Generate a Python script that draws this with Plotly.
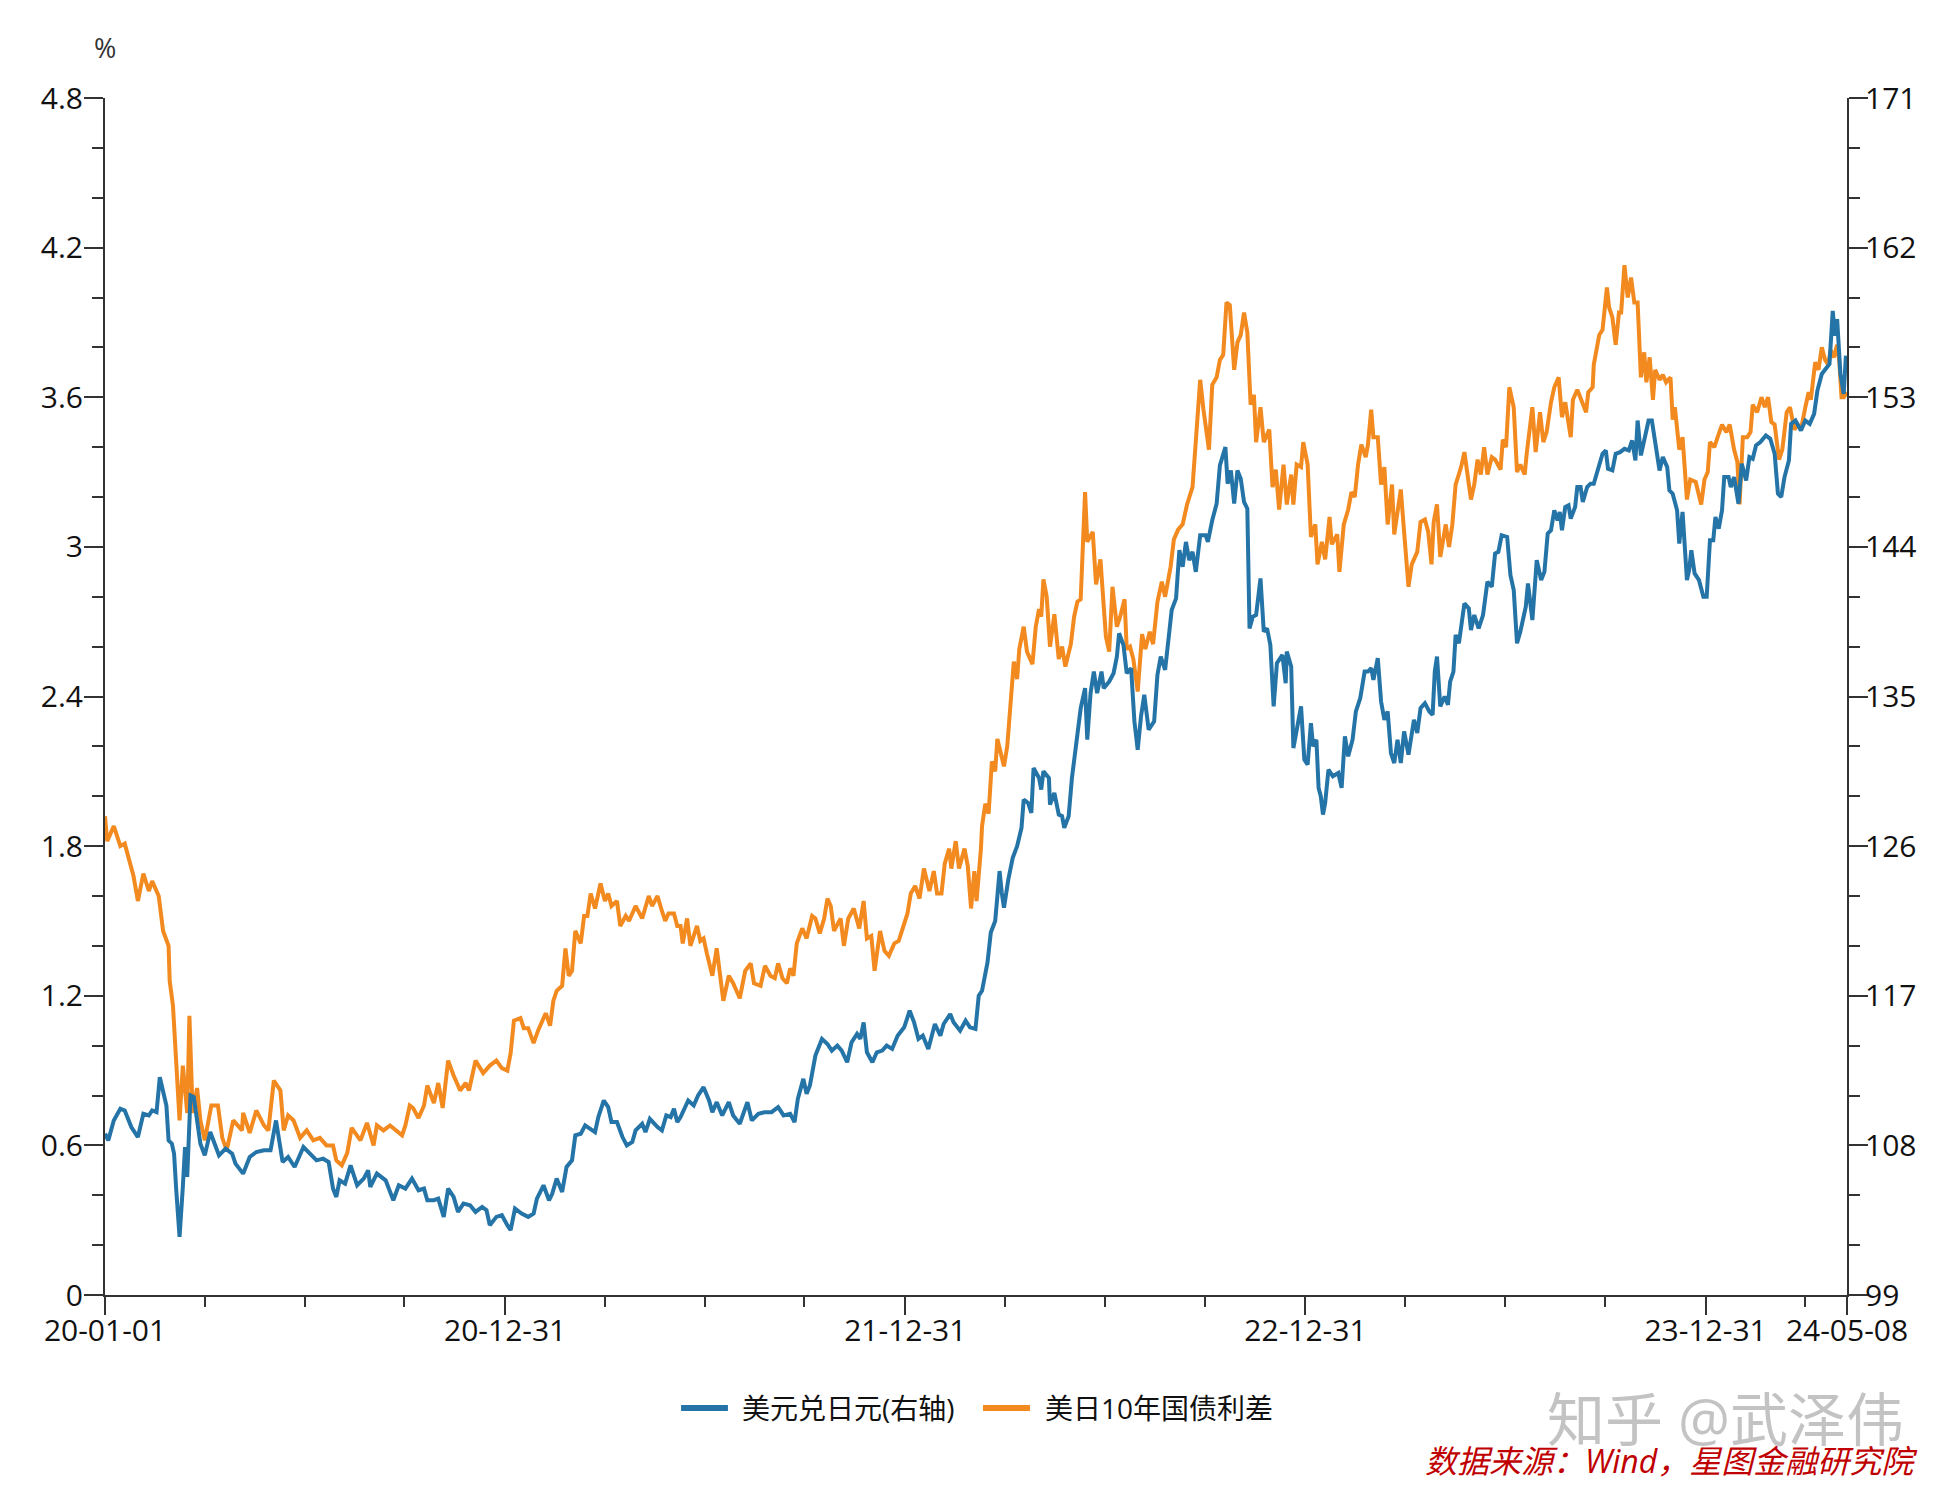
import pandas as pd
import plotly.graph_objects as go

# 美日10年国债利差 (%), days since 2020-01-01
spread_day = [
    0, 2, 8, 14, 18, 26, 30, 35, 40, 43, 49, 53, 58, 59, 62, 65, 68, 71, 75, 77,
    80, 84, 87, 91, 97, 103, 107, 111, 117, 125, 126, 132, 138, 145, 149, 154, 160, 163, 167, 172,
    178, 184, 190, 196, 202, 208, 211, 216, 221, 225, 233, 239, 245, 248, 254,
    260, 266, 271, 274, 278, 281, 286, 291, 294, 300, 304, 308, 313, 318, 324, 329, 332, 338, 342, 345,
    351, 357, 362, 367, 370, 373, 379, 382, 386, 391, 395, 402, 406, 409, 412, 417, 420, 423, 426, 429,
    434, 437, 440, 443, 447, 452, 456, 459, 462, 467, 470, 475, 478, 484, 490, 496, 499, 504, 508, 511,
    514, 519, 522,
    525, 527, 531, 534, 540, 543, 546, 549, 554, 558, 564, 569, 573, 579, 584, 589, 592, 598, 602, 607,
    611, 614, 618, 622, 625, 628, 631, 636, 640, 645, 648, 652, 656, 659, 662, 665, 671, 674, 678, 683,
    688, 692, 695, 699, 702, 707, 711, 715, 720, 724, 728, 732, 735, 739, 743, 747, 752, 756, 759, 763,
    766, 770, 772, 776, 779, 784, 787, 790, 793, 795, 799,
    800, 803, 806, 809, 812, 814, 817, 820, 823, 826, 829, 832, 834, 838, 841, 846, 849, 852, 854, 856,
    859, 862, 866, 870, 873, 876, 881, 884, 887, 890, 894, 896, 901, 904, 908, 913, 916, 919, 923, 926,
    930, 932, 935, 938, 942, 946, 949, 953, 956, 960, 964, 967, 972, 975, 979, 983, 987, 992, 995, 999,
    1002, 1007, 1010, 1014, 1017, 1020, 1023, 1026, 1030, 1033, 1036, 1039, 1042, 1045, 1048, 1050,
    1054, 1057, 1062, 1065, 1068, 1071, 1075, 1078, 1082, 1084, 1087, 1091, 1093, 1097, 1100, 1104, 1106, 1110, 1113, 1117,
    1119, 1124, 1126, 1130, 1134, 1137, 1140, 1143, 1146, 1150, 1152, 1155, 1157, 1161, 1164, 1167, 1170, 1174, 1176, 1182,
    1185, 1189, 1192, 1197, 1200, 1204, 1207, 1210, 1212, 1215, 1218, 1223, 1226, 1229, 1232, 1237, 1240, 1243, 1246, 1249,
    1252, 1255, 1258, 1261, 1265, 1268, 1273, 1275, 1278, 1281, 1285, 1288, 1291, 1295, 1297, 1302, 1305, 1309, 1312, 1315,
    1319, 1322, 1326, 1329, 1332, 1337, 1339, 1343, 1347, 1351, 1353, 1357, 1358, 1363, 1366, 1370, 1372, 1375, 1378, 1381,
    1383, 1386, 1389, 1392, 1395, 1398, 1401, 1404, 1406, 1409, 1412, 1414, 1418, 1421, 1424, 1428, 1430, 1432, 1436, 1439,
    1443, 1446, 1451, 1456, 1459, 1462, 1464, 1468, 1471, 1475, 1479, 1482, 1486, 1489, 1491, 1494, 1498, 1501, 1503, 1507,
    1511, 1514, 1517, 1520, 1523, 1527, 1530, 1534, 1537, 1541, 1544, 1547, 1551, 1554, 1556, 1560, 1563, 1566, 1569, 1572,
    1574, 1577, 1580, 1582, 1584, 1586, 1589,
]
spread_val = [
    1.92, 1.82, 1.88, 1.80, 1.81, 1.68, 1.58, 1.69, 1.62, 1.66, 1.60, 1.46, 1.40, 1.26, 1.16, 0.93, 0.70, 0.92, 0.73, 1.12,
    0.73, 0.83, 0.70, 0.62, 0.76, 0.76, 0.63, 0.58, 0.70, 0.66, 0.73, 0.65, 0.74, 0.68, 0.66, 0.86, 0.82, 0.66, 0.72, 0.70,
    0.63, 0.66, 0.62, 0.63, 0.60, 0.60, 0.54, 0.52, 0.57, 0.67, 0.62, 0.69, 0.60, 0.68, 0.66,
    0.68, 0.66, 0.64, 0.68, 0.76, 0.75, 0.71, 0.76, 0.84, 0.77, 0.85, 0.75, 0.94, 0.88, 0.82, 0.85, 0.82, 0.94, 0.91, 0.89,
    0.92, 0.94, 0.91, 0.90, 0.97, 1.10, 1.11, 1.07, 1.07, 1.01, 1.06, 1.13, 1.08, 1.18, 1.22, 1.24, 1.39, 1.28, 1.30, 1.46,
    1.41, 1.52, 1.52, 1.61, 1.55, 1.65, 1.58, 1.61, 1.56, 1.58, 1.48, 1.52, 1.50, 1.56, 1.51, 1.60, 1.56, 1.60, 1.54, 1.50,
    1.53, 1.53, 1.48,
    1.48, 1.41, 1.51, 1.40, 1.48, 1.42, 1.43, 1.37, 1.28, 1.39, 1.18, 1.28, 1.25, 1.19, 1.30, 1.33, 1.25, 1.24, 1.32, 1.28,
    1.27, 1.33, 1.27, 1.25, 1.31, 1.28, 1.41, 1.47, 1.43, 1.52, 1.51, 1.45, 1.51, 1.59, 1.56, 1.46, 1.51, 1.40, 1.51, 1.55,
    1.47, 1.58, 1.43, 1.44, 1.30, 1.46, 1.38, 1.36, 1.41, 1.42, 1.48, 1.53, 1.61, 1.64, 1.59, 1.71, 1.62, 1.70, 1.61, 1.61,
    1.73, 1.79, 1.71, 1.82, 1.71, 1.79, 1.72, 1.55, 1.70, 1.58, 1.79,
    1.88, 1.97, 1.93, 2.14, 2.10, 2.23, 2.18, 2.12, 2.20, 2.38, 2.54, 2.47, 2.59, 2.68, 2.58, 2.53, 2.68, 2.75, 2.72, 2.87,
    2.80, 2.60, 2.73, 2.55, 2.60, 2.52, 2.61, 2.72, 2.78, 2.79, 3.22, 3.02, 3.06, 2.85, 2.95, 2.64, 2.58, 2.84, 2.68, 2.72,
    2.79, 2.59, 2.60, 2.55, 2.42, 2.65, 2.59, 2.66, 2.61, 2.78, 2.86, 2.80, 2.92, 3.03, 3.07, 3.09, 3.17, 3.24, 3.42, 3.67,
    3.55, 3.39, 3.65, 3.68, 3.75, 3.77, 3.98, 3.97, 3.71, 3.82, 3.85, 3.94, 3.86, 3.57, 3.61, 3.42,
    3.56, 3.42, 3.47, 3.24, 3.31, 3.15, 3.33, 3.17, 3.29, 3.17, 3.33, 3.32, 3.42, 3.33, 3.04, 3.09, 2.93, 3.02, 2.95, 3.12,
    3.01, 3.05, 2.90, 3.09, 3.15, 3.22, 3.20, 3.33, 3.41, 3.36, 3.41, 3.55, 3.44, 3.44, 3.25, 3.32, 3.09, 3.25, 3.05, 3.23,
    3.06, 2.84, 2.93, 2.98, 3.10, 3.11, 3.06, 2.93, 3.10, 3.17, 2.96, 3.09, 3.00, 3.09, 3.25, 3.32, 3.38, 3.28, 3.19, 3.25,
    3.35, 3.29, 3.40, 3.29, 3.36, 3.35, 3.31, 3.43, 3.40, 3.64, 3.56, 3.30, 3.33, 3.29, 3.38, 3.56, 3.38, 3.54, 3.42, 3.46,
    3.58, 3.64, 3.68, 3.52, 3.58, 3.44, 3.59, 3.63, 3.58, 3.54, 3.62, 3.64, 3.73, 3.85, 3.87, 4.04, 3.96, 3.92, 3.81, 3.94,
    3.94, 4.13, 4.00, 4.08, 3.98, 3.98, 3.68, 3.78, 3.66, 3.76, 3.59, 3.71, 3.67, 3.69, 3.66, 3.68, 3.51, 3.56, 3.39, 3.44,
    3.19, 3.27, 3.26, 3.17, 3.27, 3.30, 3.42, 3.40, 3.44, 3.49, 3.46, 3.49, 3.39, 3.34, 3.17, 3.44, 3.44, 3.46, 3.57, 3.54,
    3.60, 3.56, 3.60, 3.50, 3.49, 3.35, 3.39, 3.54, 3.56, 3.47, 3.49, 3.47, 3.56, 3.62, 3.59, 3.74, 3.71, 3.80, 3.75, 3.73,
    3.79, 3.76, 3.81, 3.74, 3.60, 3.60, 3.62,
]

# 美元兑日元 (right axis), days since 2020-01-01
usdjpy_day = [
    0, 3, 8, 14, 18, 24, 30, 35, 40, 43, 47, 50, 56, 58, 61, 63, 65, 68, 71, 73,
    75, 78, 81, 84, 87, 91, 96, 100, 104, 110, 116, 119, 126, 132, 138, 145, 151, 156, 162, 167,
    173, 181, 187, 193, 199, 204, 208, 211, 214, 219, 224, 230, 236, 240, 242, 248, 256,
    260, 263, 268, 274, 280, 286, 291, 294, 300, 304, 309, 313, 318, 322, 327, 333, 338, 344, 348,
    351, 357, 362, 367, 370, 374, 380, 386, 391, 394, 400, 405, 408, 412, 417, 421, 426, 429, 434, 438,
    443, 447, 450, 455, 459, 462, 467, 472, 476, 481, 484, 490, 493, 497, 504, 508, 512, 516, 519, 522,
    525, 529, 532, 537, 541, 546, 551, 554, 558, 563, 569, 573, 579, 586, 590, 596, 602, 608, 614, 619,
    625, 629, 632, 637, 640, 643, 648, 654, 659, 663, 668, 672, 677, 681, 686, 689, 692, 695, 700, 704,
    709, 713, 718, 723, 729, 734, 738, 742, 746, 751, 757, 762, 765, 771, 774, 780, 785, 789, 794, 797,
    800, 805, 808, 812, 816, 818, 820, 824, 828, 832,
    836, 838, 842, 845, 847, 852, 854, 856, 861, 862, 866, 870, 873, 875, 879, 882, 886, 890, 894, 896,
    899, 902, 905, 909, 911, 916, 920, 923, 925, 929, 932, 936, 939, 942, 945, 948, 952, 957, 960, 963,
    967, 970, 973, 977, 980, 983, 986, 989, 992, 995, 999, 1004, 1006, 1010, 1014, 1017, 1022, 1024, 1027, 1030,
    1033, 1036, 1039, 1042, 1044, 1047, 1050,
    1054, 1057, 1060, 1063, 1066, 1069, 1074, 1077, 1078, 1082, 1084, 1087, 1091, 1094, 1097, 1100, 1102, 1105, 1107, 1109,
    1111, 1113, 1116, 1120, 1125, 1128, 1131, 1134, 1138, 1141, 1145, 1149, 1152, 1155, 1157, 1161, 1164, 1167, 1170, 1173,
    1176, 1179, 1182, 1185, 1189, 1194, 1197, 1200, 1204, 1208, 1211, 1213, 1215, 1218, 1222, 1225, 1227, 1230, 1232, 1235,
    1240, 1244, 1246, 1249, 1253, 1257, 1261, 1265, 1268, 1271, 1274, 1279, 1282, 1285, 1288, 1291, 1296, 1298, 1302, 1306,
    1310, 1313, 1316,
    1319, 1322, 1325, 1327, 1329, 1332, 1335, 1337, 1341, 1343, 1346, 1348, 1352, 1355, 1358, 1363, 1366, 1369, 1371, 1375,
    1378, 1382, 1386, 1390, 1393, 1396, 1398, 1401, 1404, 1408, 1411, 1415, 1418, 1421, 1425, 1427, 1430, 1434, 1436, 1439,
    1443, 1445, 1447, 1450, 1454, 1458, 1461, 1464, 1467, 1469, 1472, 1475, 1477, 1481, 1483, 1486, 1490, 1493, 1497, 1500,
    1503, 1506, 1510, 1515, 1519, 1523, 1526, 1529, 1532, 1536, 1538, 1542, 1547, 1551, 1555, 1559, 1562, 1566, 1570, 1573,
    1576, 1578, 1580, 1583, 1586, 1588,
]
usdjpy_val = [
    108.7, 108.3, 109.5, 110.2, 110.1, 109.1, 108.5, 109.9, 109.8, 110.1, 110.0, 112.1, 110.4, 108.3, 108.1, 107.5, 105.3, 102.5, 105.5, 107.9,
    106.1, 111.0, 110.9, 109.5, 108.1, 107.4, 108.8, 108.1, 107.4, 107.8, 107.5, 106.9, 106.3, 107.3, 107.6, 107.7, 107.7, 109.5, 107.0, 107.3,
    106.7, 107.9, 107.5, 107.1, 107.2, 107.0, 105.4, 104.9, 105.9, 105.7, 106.8, 105.6, 106.0, 106.5, 105.5, 106.3, 105.9,
    105.2, 104.7, 105.6, 105.4, 106.0, 105.3, 105.4, 104.7, 104.7, 104.8, 103.7, 105.4, 104.9, 104.0, 104.5, 104.4, 104.0, 104.3, 104.1,
    103.2, 103.7, 103.8, 103.2, 102.9, 104.2, 103.9, 103.7, 103.9, 104.8, 105.6, 104.7, 105.1, 106.0, 105.2, 106.7, 107.1, 108.6, 108.7, 109.2,
    109.0, 108.8, 109.7, 110.7, 110.3, 109.4, 109.4, 108.5, 108.0, 108.2, 108.9, 109.3, 108.8, 109.6, 109.1, 108.9, 109.8, 109.7, 110.2, 109.4,
    109.7, 110.2, 110.7, 110.4, 111.0, 111.5, 110.7, 110.0, 110.6, 109.8, 110.6, 109.8, 109.3, 110.6, 109.5, 109.9, 110.0, 110.0, 110.3, 109.8,
    109.9, 109.4, 110.8, 112.0, 111.1, 111.6, 113.4, 114.4, 114.1, 113.7, 114.0, 113.7, 113.0, 114.2, 114.7, 114.4, 115.4, 113.6, 113.0, 113.6,
    113.7, 114.0, 113.8, 114.6, 115.1, 116.1, 115.4, 114.4, 114.6, 113.8, 115.3, 114.6, 115.3, 115.9, 115.4, 114.9, 115.5, 115.1, 115.0, 117.0,
    117.3, 119.0, 120.8, 121.5, 124.5, 123.2, 122.3, 124.0, 125.3, 126.0,
    127.1, 128.8, 128.6, 128.0, 130.7, 130.1, 129.4, 130.5, 130.1, 128.5, 129.2, 127.9, 127.8, 127.1, 127.8, 130.1, 132.0, 134.3, 135.5, 132.4,
    135.2, 136.5, 135.2, 136.5, 135.5, 135.9, 136.4, 137.4, 138.8, 138.1, 136.4, 136.7, 133.5, 131.8, 133.8, 135.1, 133.0, 133.5, 136.3, 137.4,
    136.6, 138.7, 140.2, 140.9, 143.8, 142.8, 144.3, 143.2, 143.7, 142.5, 144.7, 144.7, 144.3, 145.6, 146.6, 148.9, 150.0, 147.8, 148.6, 146.6,
    148.6, 148.1, 146.7, 146.3, 139.1, 139.8, 139.9,
    142.1, 138.9, 139.1, 138.1, 134.4, 137.0, 137.5, 135.8, 137.7, 136.8, 131.9, 133.0, 134.4, 131.2, 130.9, 133.4, 132.0, 132.4, 129.5, 129.0,
    127.9, 128.6, 130.6, 130.2, 130.4, 129.5, 132.6, 131.4, 132.4, 134.1, 134.9, 136.5, 136.5, 136.7, 136.0, 137.3, 134.7, 133.6, 134.1, 131.6,
    131.0, 132.4, 131.0, 132.9, 131.5, 133.6, 132.8, 134.3, 134.6, 134.1, 133.9, 136.5, 137.4, 134.4, 135.0, 134.5, 135.9, 136.5, 138.7, 138.2,
    140.6, 140.3, 139.0, 139.9, 139.1, 139.9, 141.9, 141.6, 143.6, 143.7, 144.7, 144.6, 142.3, 141.4, 138.2, 138.9, 140.4, 141.8, 139.6, 143.2,
    142.0, 142.5, 144.8,
    145.0, 146.2, 145.6, 146.1, 145.0, 146.4, 146.5, 145.7, 146.4, 147.6, 147.6, 146.7, 147.6, 147.8, 147.8, 149.0, 149.6, 149.8, 148.7, 148.6,
    149.6, 149.7, 149.9, 149.8, 150.4, 149.2, 151.6, 149.5, 150.4, 151.6, 151.6, 150.0, 148.6, 149.4, 148.8, 147.4, 147.2, 146.2, 144.2, 146.1,
    142.0, 142.6, 143.8, 142.4, 142.0, 141.0, 141.0, 144.4, 144.4, 145.8, 145.1, 146.2, 148.2, 148.2, 147.6, 148.2, 146.6, 149.0, 148.0, 149.4,
    149.3, 150.1, 150.3, 150.7, 150.5, 149.6, 147.2, 147.0, 148.2, 149.2, 151.4, 151.6, 151.0, 151.6, 151.4, 152.0, 153.4, 154.4, 154.7, 155.0,
    158.2, 156.7, 157.7, 154.4, 153.2, 155.5,
]

x_tickvals = ['2020-01-01', '2020-12-31', '2021-12-31', '2022-12-31', '2023-12-31', '2024-05-08']
x_ticktext = ['20-01-01', '20-12-31', '21-12-31', '22-12-31', '23-12-31', '24-05-08']
x_minorvals = ['2020-04-01', '2020-07-01', '2020-09-30',
               '2021-04-01', '2021-07-01', '2021-09-30',
               '2022-04-01', '2022-07-01', '2022-09-30',
               '2023-04-01', '2023-07-01', '2023-09-30',
               '2024-03-31']
left_ticks = [0, 0.6, 1.2, 1.8, 2.4, 3.0, 3.6, 4.2, 4.8]
left_text = ['0', '0.6', '1.2', '1.8', '2.4', '3', '3.6', '4.2', '4.8']
right_ticks = [99, 108, 117, 126, 135, 144, 153, 162, 171]
series_names = ['美元兑日元(右轴)', '美日10年国债利差']

start = pd.Timestamp('2020-01-01')
spread_date = start + pd.to_timedelta(spread_day, unit='D')
usdjpy_date = start + pd.to_timedelta(usdjpy_day, unit='D')

BLUE = '#2474A8'
ORANGE = '#F28A1F'
AXIS = '#333333'
FONT = 'Open Sans, Noto Sans CJK SC, sans-serif'

fig = go.Figure()
fig.add_trace(go.Scatter(x=usdjpy_date, y=usdjpy_val, mode='lines', name=series_names[0],
                         line=dict(color=BLUE, width=4), yaxis='y2'))
fig.add_trace(go.Scatter(x=spread_date, y=spread_val, mode='lines', name=series_names[1],
                         line=dict(color=ORANGE, width=4), yaxis='y'))

tick_common = dict(ticks='outside', tickwidth=2, tickcolor=AXIS, showline=True, linecolor=AXIS,
                   linewidth=2, showgrid=False, zeroline=False, automargin=False,
                   tickfont=dict(size=30, color='#111111'))

# page body adds 8px offset, margins compensate
fig.update_layout(
    width=1959, height=1506,
    margin=dict(l=97, r=120, t=90, b=219),
    plot_bgcolor='white', paper_bgcolor='white',
    font=dict(family=FONT, size=28, color='#111111'),
    xaxis=dict(type='date', range=['2020-01-01', '2024-05-08'], tickmode='array',
               tickvals=x_tickvals, ticktext=x_ticktext, ticklen=18, ticklabelstandoff=-10,
               minor=dict(tickmode='array', tickvals=x_minorvals, ticks='outside', ticklen=10,
                          tickwidth=2, tickcolor=AXIS, showgrid=False),
               **tick_common),
    yaxis=dict(range=[0, 4.8], tickmode='array', tickvals=left_ticks, ticktext=left_text, ticklen=19,
               ticklabelstandoff=-5,
               minor=dict(tick0=0, dtick=0.2, ticks='outside', ticklen=11, tickwidth=2,
                          tickcolor=AXIS, showgrid=False),
               **tick_common),
    yaxis2=dict(range=[99, 171], overlaying='y', side='right', tickmode='array', tickvals=right_ticks,
                ticklen=19, ticklabelstandoff=-9,
                minor=dict(tick0=99, dtick=3, ticks='outside', ticklen=11, tickwidth=2,
                           tickcolor=AXIS, showgrid=False),
                **tick_common),
    showlegend=False,
)

# legend drawn by hand for longer, thicker keys
legend_y = -0.0944
for x0, x1, tx, color, name in [(0.3307, 0.3576, 0.3645, BLUE, series_names[0]),
                                (0.5040, 0.5310, 0.5385, ORANGE, series_names[1])]:
    fig.add_shape(type='line', xref='paper', yref='paper', x0=x0, x1=x1, y0=legend_y, y1=legend_y,
                  line=dict(color=color, width=6))
    fig.add_annotation(text=name, xref='paper', yref='paper', x=tx, y=legend_y,
                       xanchor='left', yanchor='middle', showarrow=False,
                       font=dict(size=28, color='#111111'))

fig.add_annotation(text='%', xref='paper', yref='paper', x=0, y=1.042, xanchor='center', yanchor='middle',
                   showarrow=False, font=dict(size=27, color=AXIS))
fig.add_annotation(text='知乎 @武泽伟', xref='paper', yref='paper', x=0.93, y=-0.103,
                   xanchor='center', yanchor='middle', showarrow=False,
                   font=dict(size=58, color='rgba(170,170,170,0.7)'))
fig.add_annotation(text='<i>数据来源：Wind，星图金融研究院</i>', xref='paper', yref='paper', x=1.042, y=-0.138,
                   xanchor='right', yanchor='middle', showarrow=False,
                   font=dict(size=32, color='#C00000'))

fig.write_html('out.html')
